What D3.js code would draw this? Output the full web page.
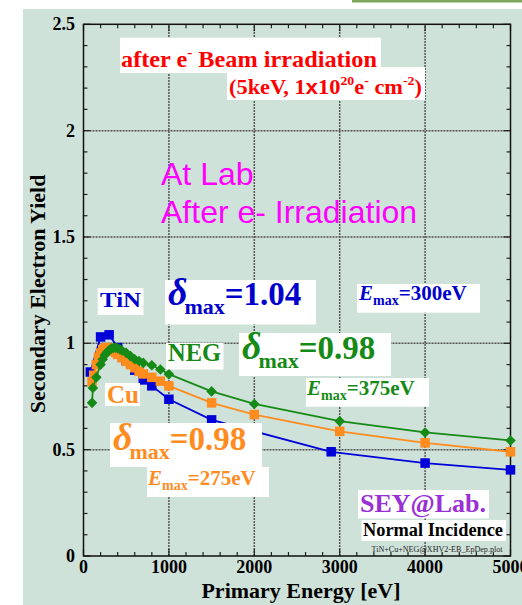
<!DOCTYPE html>
<html>
<head>
<meta charset="utf-8">
<script src="https://cdn.jsdelivr.net/npm/d3@7"></script>
<style>
  html, body { margin: 0; padding: 0; background: #ffffff; overflow: hidden; }
  svg { display: block; }
</style>
</head>
<body>
<script>
// Secondary electron yield vs primary energy after e- beam irradiation
const tinEnergy = [80, 200, 300, 400, 500, 600, 700, 800, 1000, 1500, 2900, 4000, 5000];
const tinYield  = [0.865, 1.03, 1.04, 0.98, 0.92, 0.874, 0.828, 0.80, 0.737, 0.64, 0.49, 0.437, 0.405];

const cuEnergy = [100, 120, 150, 175, 200, 225, 250, 275, 300, 325, 350, 375, 400, 450, 500, 550, 600, 650, 700, 800, 900, 1000, 1500, 2000, 3000, 4000, 5000];
const cuYield  = [0.82, 0.85, 0.90, 0.935, 0.955, 0.97, 0.977, 0.98, 0.977, 0.971, 0.964, 0.957, 0.948, 0.932, 0.915, 0.90, 0.885, 0.868, 0.856, 0.84, 0.822, 0.80, 0.72, 0.665, 0.586, 0.532, 0.49];

const negEnergy = [100, 110, 150, 200, 225, 250, 275, 300, 325, 350, 375, 400, 425, 450, 500, 550, 600, 650, 700, 800, 900, 1000, 1500, 2000, 3000, 4000, 5000];
const negYield  = [0.72, 0.79, 0.84, 0.90, 0.925, 0.945, 0.958, 0.968, 0.975, 0.978, 0.98, 0.977, 0.972, 0.966, 0.955, 0.94, 0.925, 0.917, 0.908, 0.897, 0.877, 0.855, 0.774, 0.715, 0.634, 0.581, 0.543];

const xTickLabels = ["0", "1000", "2000", "3000", "4000", "5000"];
const yTickLabels = ["0", "0.5", "1", "1.5", "2", "2.5"];

const W = 522, H = 605;
const SERIF = "'Liberation Serif', 'Times New Roman', serif";
const SANS = "'Liberation Sans', Arial, sans-serif";

const svg = d3.select("body").append("svg")
  .attr("width", W).attr("height", H)
  .attr("viewBox", `0 0 ${W} ${H}`);

// page background
svg.append("rect").attr("x", 23).attr("y", 9).attr("width", W - 23).attr("height", H - 9).attr("fill", "#cfe2d9");
svg.append("rect").attr("x", 352).attr("y", 0).attr("width", W - 352).attr("height", 2.5).attr("fill", "#7fa85c");

const x = d3.scaleLinear().domain([0, 5000]).range([83.5, 510.5]);
const y = d3.scaleLinear().domain([0, 2.5]).range([556, 24.3]);

const [x0, x1] = x.range();
const [y0, y1] = y.range();

// grid lines at major ticks
const xMajor = d3.range(0, 5001, 1000);
const yMajor = d3.range(0, 2.501, 0.5);
const grid = svg.append("g").attr("stroke", "#555").attr("stroke-width", 1.5).attr("stroke-dasharray", "2,1");
grid.selectAll(".gx").data(xMajor.slice(1, -1)).join("line")
  .attr("x1", d => x(d)).attr("x2", d => x(d)).attr("y1", y0).attr("y2", y1);
grid.selectAll(".gy").data(yMajor.slice(1, -1)).join("line")
  .attr("y1", d => y(d)).attr("y2", d => y(d)).attr("x1", x0).attr("x2", x1);

// inward ticks on all four sides
const ticks = svg.append("g").attr("stroke", "#222").attr("stroke-width", 1.2);
const xMinor = d3.range(0, 5001, 200);
const yMinor = d3.range(0, 2.501, 0.1);
xMinor.forEach(v => {
  const len = Math.abs(v % 1000) < 1e-6 ? 7 : 4;
  ticks.append("line").attr("x1", x(v)).attr("x2", x(v)).attr("y1", y0).attr("y2", y0 - len);
  ticks.append("line").attr("x1", x(v)).attr("x2", x(v)).attr("y1", y1).attr("y2", y1 + len);
});
yMinor.forEach(v => {
  const len = Math.abs((v * 10) % 5) < 1e-6 ? 7 : 4;
  ticks.append("line").attr("y1", y(v)).attr("y2", y(v)).attr("x1", x0).attr("x2", x0 + len);
  ticks.append("line").attr("y1", y(v)).attr("y2", y(v)).attr("x1", x1).attr("x2", x1 - len);
});

// frame
svg.append("rect").attr("x", x0).attr("y", y1).attr("width", x1 - x0).attr("height", y0 - y1)
  .attr("fill", "none").attr("stroke", "#111").attr("stroke-width", 1.5);

// tick labels
svg.append("g").selectAll("text").data(xMajor).join("text")
  .attr("x", d => x(d)).attr("y", 573).attr("text-anchor", "middle")
  .attr("font-family", SERIF).attr("font-weight", "bold").attr("font-size", 18)
  .text((d, i) => xTickLabels[i]);
svg.append("g").selectAll("text").data(yMajor).join("text")
  .attr("x", 75).attr("y", d => y(d) + 6).attr("text-anchor", "end")
  .attr("font-family", SERIF).attr("font-weight", "bold").attr("font-size", 18)
  .text((d, i) => yTickLabels[i]);

// axis titles
svg.append("text").attr("x", (x0 + x1) / 2 + 4).attr("y", 598).attr("text-anchor", "middle")
  .attr("font-family", SERIF).attr("font-weight", "bold").attr("font-size", 22)
  .text("Primary Energy [eV]");
svg.append("text").attr("transform", "translate(45,294) rotate(-90)").attr("text-anchor", "middle")
  .attr("font-family", SERIF).attr("font-weight", "bold").attr("font-size", 22)
  .text("Secondary Electron Yield");

// data series
const series = [
  { e: tinEnergy, v: tinYield, color: "#0000d8", marker: "square", size: 9.5 },
  { e: cuEnergy,  v: cuYield,  color: "#ff8c1f", marker: "square", size: 9.5 },
  { e: negEnergy, v: negYield, color: "#168a16", marker: "diamond", size: 7.5 }
];
const line = d3.line().x(d => x(d[0])).y(d => y(d[1]));
series.forEach(s => {
  const pts = s.e.map((e, i) => [e, s.v[i]]);
  const g = svg.append("g");
  g.append("path").attr("d", line(pts)).attr("fill", "none")
    .attr("stroke", s.color).attr("stroke-width", 1.8);
  if (s.marker === "square") {
    g.selectAll("rect").data(pts).join("rect")
      .attr("x", d => x(d[0]) - s.size / 2).attr("y", d => y(d[1]) - s.size / 2)
      .attr("width", s.size).attr("height", s.size).attr("fill", s.color);
  } else {
    g.selectAll("rect").data(pts).join("rect")
      .attr("x", -s.size / 2).attr("y", -s.size / 2)
      .attr("width", s.size).attr("height", s.size).attr("fill", s.color)
      .attr("transform", d => `translate(${x(d[0])},${y(d[1])}) rotate(45)`);
  }
});

// annotation helper: white box + rich text made of tspans
function note(box, tx, ty, color, parts, opts = {}) {
  if (box) {
    svg.append("rect").attr("x", box[0]).attr("y", box[1])
      .attr("width", box[2] - box[0]).attr("height", box[3] - box[1]).attr("fill", "#ffffff");
  }
  const t = svg.append("text").attr("x", tx).attr("y", ty).attr("fill", color)
    .attr("font-family", opts.family || SERIF).attr("font-weight", opts.weight || "bold")
    .attr("font-size", opts.size || 20);
  if (opts.length) t.attr("textLength", opts.length).attr("lengthAdjust", "spacingAndGlyphs");
  let shift = 0;
  parts.forEach(p => {
    const ts = t.append("tspan").text(p.t);
    const target = p.shift || 0;
    if (target !== shift) { ts.attr("dy", target - shift); shift = target; }
    if (p.size) ts.attr("font-size", p.size);
    if (p.style) ts.attr("font-style", p.style);
    if (p.family) ts.attr("font-family", p.family);
    if (p.dx) ts.attr("dx", p.dx);
  });
  return t;
}

// irradiation conditions
note([120, 37.7, 381, 73], 121, 67, "#ff0000", [
  { t: "after e" }, { t: "-", size: 15, shift: -10 }, { t: " Beam irradiation", shift: 0 }
], { size: 24, length: 256 });
note([227, 67, 425, 100], 229, 94, "#ff0000", [
  { t: "(5keV, 1" }, { t: "x", family: SANS }, { t: "10" },
  { t: "20", size: 13, shift: -9 }, { t: "e", shift: 0 }, { t: "-", size: 13, shift: -9 },
  { t: " cm", shift: 0 }, { t: "-2", size: 13, shift: -9 }, { t: ")", shift: 0 }
], { size: 21, length: 193 });

// condition label
note(null, 161, 185, "#ff00ff", [{ t: "At Lab" }], { family: SANS, weight: "normal", size: 32 });
note(null, 161, 223, "#ff00ff", [{ t: "After e- Irradiation" }], { family: SANS, weight: "normal", size: 32 });

// TiN
note([97.7, 288, 143.5, 315], 100, 306.5, "#0000cc", [{ t: "TiN" }], { size: 22, length: 41 });
note([165, 280, 316, 324.5], 168, 305, "#0000cc", [
  { t: "δ", size: 38, style: "italic" }, { t: "max", size: 22, shift: 9, dx: -3 }, { t: "=1.04", size: 33, shift: 0 }
]);
note([357, 284, 480, 312.7], 359, 300, "#0000cc", [
  { t: "E", style: "italic" }, { t: "max", size: 14, shift: 5 }, { t: "=300eV", shift: 0 }
], { size: 21 });

// NEG
note([166, 343, 223.5, 369.5], 168, 361, "#168a16", [{ t: "NEG" }], { size: 25, length: 53 });
note([239, 333, 391, 376], 242, 359, "#168a16", [
  { t: "δ", size: 38, style: "italic" }, { t: "max", size: 22, shift: 9, dx: -3 }, { t: "=0.98", size: 33, shift: 0 }
]);
note([306, 378, 429, 406.7], 307, 395, "#168a16", [
  { t: "E", style: "italic" }, { t: "max", size: 14, shift: 5 }, { t: "=375eV", shift: 0 }
], { size: 21 });

// Cu
note([105, 383, 140, 406], 107, 403, "#ff8c1f", [{ t: "Cu" }], { size: 25 });
note([110, 423, 262, 467], 113, 450, "#ff8c1f", [
  { t: "δ", size: 38, style: "italic" }, { t: "max", size: 22, shift: 9, dx: -3 }, { t: "=0.98", size: 33, shift: 0 }
]);
note([147, 467, 269, 497], 148, 485, "#ff8c1f", [
  { t: "E", style: "italic" }, { t: "max", size: 14, shift: 5 }, { t: "=275eV", shift: 0 }
], { size: 21 });

// measurement tag
note([358, 490, 489, 518.5], 360, 512, "#9b2fd6", [{ t: "SEY@Lab." }], { size: 26 });
note([361.5, 520, 506, 541], 363, 536, "#000000", [{ t: "Normal Incidence" }], { size: 18, length: 140 });
note(null, 371.5, 551.5, "#222222", [{ t: "TiN+Cu+NEG@XHV2-EB_EpDep.plot" }],
  { size: 7.5, weight: "normal", length: 131 });
</script>
</body>
</html>
